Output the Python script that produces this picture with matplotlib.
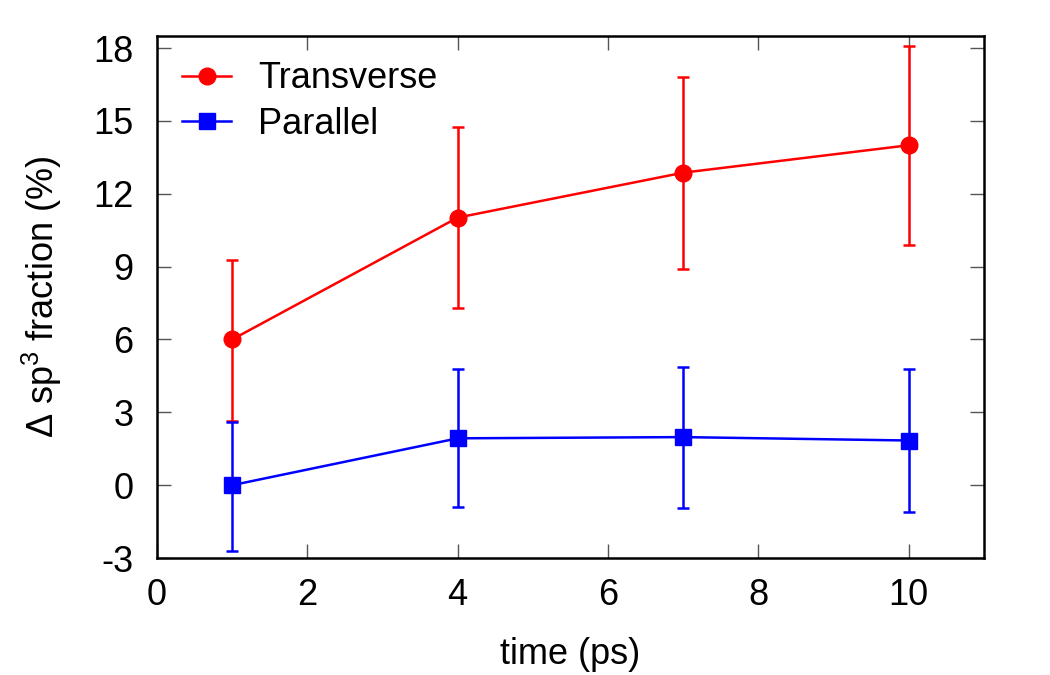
import matplotlib
matplotlib.use('Agg')
import matplotlib.pyplot as plt

# dane
czas = [1, 4, 7, 10]
transverse = [6.0, 11.02, 12.87, 14.0]
transverse_gora = [9.27, 14.75, 16.83, 18.1]
transverse_dol = [2.65, 7.3, 8.92, 9.9]
parallel = [0.0, 1.93, 1.98, 1.84]
parallel_gora = [2.6, 4.8, 4.88, 4.8]
parallel_dol = [-2.7, -0.9, -0.95, -1.1]

plt.rcParams['font.family'] = ['Liberation Sans', 'DejaVu Sans']
plt.rcParams['mathtext.fontset'] = 'custom'
plt.rcParams['mathtext.rm'] = 'Liberation Sans'
plt.rcParams['mathtext.it'] = 'Liberation Sans:italic'
plt.rcParams['axes.unicode_minus'] = False

fig = plt.figure(figsize=(10.5, 6.75), dpi=100)
ax = fig.add_axes([0.1495, 0.1733, 0.7875, 0.7734])

def bledy(y, gora, dol):
    return [[a - b for a, b in zip(y, dol)], [b - a for a, b in zip(y, gora)]]

ax.errorbar(czas, transverse, yerr=bledy(transverse, transverse_gora, transverse_dol),
            color='#ff0000', fmt='none', elinewidth=1.8, capsize=4.5, capthick=1.8)
ax.errorbar(czas, parallel, yerr=bledy(parallel, parallel_gora, parallel_dol),
            color='#0000ff', fmt='none', elinewidth=1.8, capsize=4.5, capthick=1.8)
l1, = ax.plot(czas, transverse, color='#ff0000', marker='o', markersize=12,
              linewidth=1.8, label='Transverse')
l2, = ax.plot(czas, parallel, color='#0000ff', marker='s', markersize=11,
              linewidth=1.8, label='Parallel')

ax.set_xlim(0, 11)
ax.set_ylim(-3, 18.5)
ax.set_xticks([0, 2, 4, 6, 8, 10])
ax.set_yticks([-3, 0, 3, 6, 9, 12, 15, 18])
ax.tick_params(direction='in', length=10, width=1, top=True, right=True,
               labelsize=26, color='#555555')
ax.tick_params(axis='x', pad=14.5)
ax.tick_params(axis='y', pad=17)
for s in ax.spines.values():
    s.set_linewidth(1.8)

ax.set_xlabel('time (ps)', fontsize=26, labelpad=17)
ax.set_ylabel(r'$\Delta$ sp$^3$ fraction (%)', fontsize=26, labelpad=21)

ax.legend(handles=[l1, l2], loc='upper left', frameon=False, fontsize=26,
          handlelength=1.35, borderaxespad=0.3, labelspacing=0.3,
          handletextpad=0.75, borderpad=0.4)

fig.savefig('out.png', dpi=100)
